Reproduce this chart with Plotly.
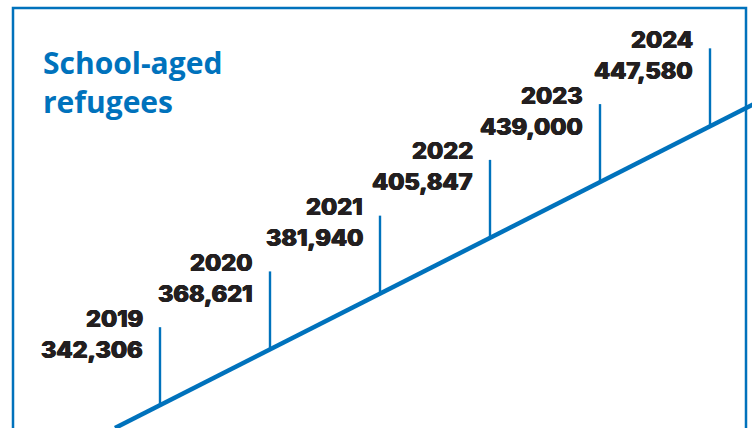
import plotly.graph_objects as go

# ---- data ----
years = [2019, 2020, 2021, 2022, 2023, 2024]
values = [342306, 368621, 381940, 405847, 439000, 447580]
title_lines = ["School-aged", "refugees"]

# ---- style ----
BLUE = "#0072BC"
INK = "#231F20"
W, H = 752, 428
PX_PER_YEAR = 110.0          # horizontal spacing of the year markers
X_FIRST = 160.0              # pixel position of first year
SLOPE = 0.507                # rise of the timeline per pixel
LINE_START_PX = 115.0        # where the timeline enters at the bottom edge
STEM = 78                    # stem height (px)
YEAR_OFF = 87                # year label centre above timeline (px)
VAL_OFF = 56                 # value label centre above timeline (px)

x0 = years[0] - X_FIRST / PX_PER_YEAR
x1 = x0 + W / PX_PER_YEAR
rise_per_year = SLOPE * PX_PER_YEAR
y_zero_year = years[0] - (X_FIRST - LINE_START_PX) / PX_PER_YEAR


def base(yr):
    return (yr - y_zero_year) * rise_per_year


fig = go.Figure()

# timeline
tx = [y_zero_year, x1 + 0.5]
fig.add_trace(go.Scatter(x=tx, y=[base(v) for v in tx], mode="lines",
                         line=dict(color=BLUE, width=4.5), hoverinfo="skip",
                         cliponaxis=True))

# stems
sx, sy = [], []
for yr in years:
    sx += [yr, yr, None]
    sy += [base(yr), base(yr) + STEM, None]
fig.add_trace(go.Scatter(x=sx, y=sy, mode="lines",
                         line=dict(color=BLUE, width=2.4), hoverinfo="skip"))

num_font = dict(family="Inter", size=23.5, color=INK, weight=800,
                shadow=f"0.6px 0 0 {INK}, -0.6px 0 0 {INK}, 0 0.4px 0 {INK}")
for yr, v in zip(years, values):
    fig.add_annotation(x=yr, y=base(yr) + YEAR_OFF, text=str(yr), showarrow=False,
                       xanchor="right", yanchor="middle", xshift=-15, font=num_font)
    fig.add_annotation(x=yr, y=base(yr) + VAL_OFF, text=f"{v:,}", showarrow=False,
                       xanchor="right", yanchor="middle", xshift=-15, font=num_font)

title_font = dict(family="Open Sans", size=30, color=BLUE, weight=700)
for i, t in enumerate(title_lines):
    fig.add_annotation(xref="paper", yref="paper", x=41 / W, y=1 - (63 + 38 * i) / H,
                       text=t, showarrow=False, xanchor="left", yanchor="middle",
                       font=title_font)

# frame
fig.add_shape(type="rect", xref="paper", yref="paper",
              x0=13 / W, x1=746 / W, y0=-0.1, y1=1 - 8 / H,
              line=dict(color=BLUE, width=2.5))

fig.update_layout(
    width=W, height=H, margin=dict(l=0, r=0, t=0, b=0),
    paper_bgcolor="white", plot_bgcolor="white", showlegend=False,
    xaxis=dict(range=[x0, x1], visible=False, fixedrange=True),
    yaxis=dict(range=[0, H], visible=False, fixedrange=True),
)

fig.write_html("out.html")
